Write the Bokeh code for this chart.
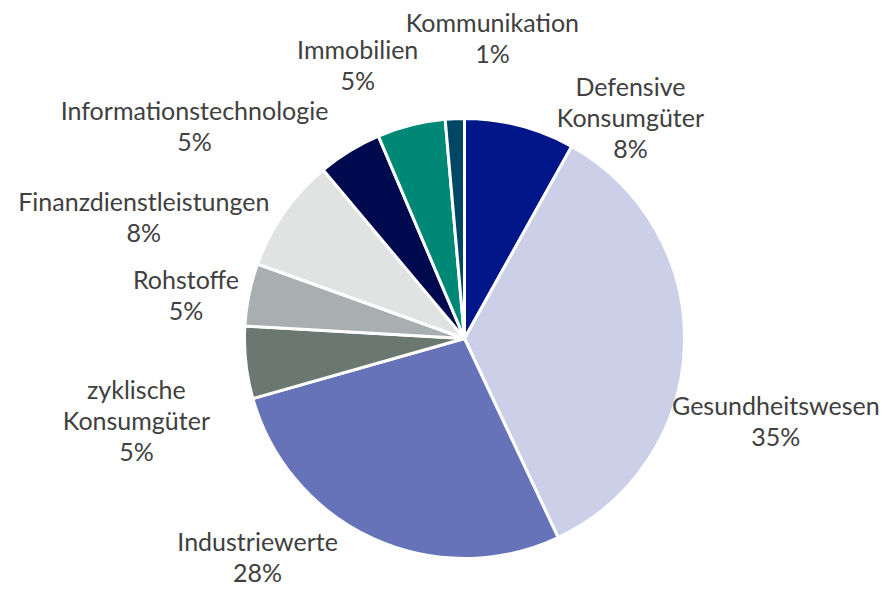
import numpy as np
from bokeh.plotting import figure
from bokeh.models import ColumnDataSource, Range1d
from bokeh.core.properties import value
from bokeh.embed import file_html
from bokeh.resources import INLINE

categories = ["Defensive\nKonsumgüter", "Gesundheitswesen", "Industriewerte",
              "zyklische\nKonsumgüter", "Rohstoffe", "Finanzdienstleistungen",
              "Informationstechnologie", "Immobilien", "Kommunikation"]
shares = [8.1, 34.9, 27.6, 5.3, 4.6, 8.4, 4.7, 5.0, 1.4]
colors = ["#001689", "#CBD0E8", "#6673B8", "#6B7872", "#A9AEB0",
          "#E1E3E3", "#000A4F", "#008876", "#004766"]

# label placement (polar, degrees clockwise from top, distance in px)
label_angle = [36.8, 104.8, 223.5, 256.1, 279.0, 290.8, 308.3, 338.7, 5.3]
label_dist = [277, 322, 300.6, 338, 282, 343, 344, 294, 302]

W, H = 885, 590
cx, cy, r = 464, H - 338, 220

frac = np.array(shares) / sum(shares)
cum = np.concatenate([[0], np.cumsum(frac)])
start = np.pi / 2 - 2 * np.pi * cum[:-1]
end = np.pi / 2 - 2 * np.pi * cum[1:]

la = np.radians(label_angle)
lx = cx + np.array(label_dist) * np.sin(la)
ly = cy + np.array(label_dist) * np.cos(la)
labels = [f"{c}\n{round(s):.0f}%" for c, s in zip(categories, shares)]

src = ColumnDataSource(dict(start=start, end=end, color=colors))
lsrc = ColumnDataSource(dict(x=lx, y=ly, text=labels))

p = figure(width=W, height=H, output_backend="svg", toolbar_location=None,
           x_range=Range1d(0, W), y_range=Range1d(0, H), min_border=0)
p.axis.visible = False
p.grid.visible = False
p.outline_line_color = None
p.background_fill_color = "white"

p.wedge(x=cx, y=cy, radius=r, start_angle="start", end_angle="end",
        direction="clock", fill_color="color", line_color="white",
        line_width=3, source=src)
p.text(x="x", y="y", text="text", source=lsrc, text_align="center",
       text_baseline="middle", text_color="#404040",
       text_font=value("Lato"), text_font_size="25px", text_line_height=1.03)

open("out.html", "w").write(file_html(p, INLINE))
